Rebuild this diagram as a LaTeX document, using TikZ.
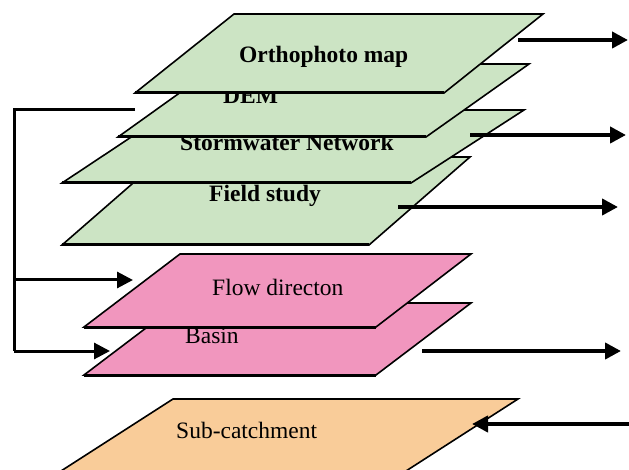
\documentclass[tikz,border=0pt]{standalone}
\usepackage{fontspec}
\setmainfont{Liberation Serif}
\usetikzlibrary{arrows.meta}
\definecolor{lgreen}{RGB}{204,228,196}
\definecolor{lpink}{RGB}{241,150,190}
\definecolor{lorange}{RGB}{249,204,153}
\tikzset{
  layer/.style={draw=black, line width=1.6pt, line join=miter},
  botedge/.style={line width=3pt},
  lbl/.style={anchor=base west, inner sep=0pt, font=\fontsize{23.5}{23.5}\selectfont},
  blbl/.style={anchor=base west, inner sep=0pt, font=\fontsize{23.5}{23.5}\selectfont\bfseries},
  flow/.style={line width=4pt, -{Triangle[length=16pt,width=16pt]}},
  bracket/.style={line width=3pt}
}
\begin{document}
\begin{tikzpicture}[x=1pt,y=-1pt]
\useasboundingbox (0,0) rectangle (629,470);
\clip (0,0) rectangle (629,470);
\fill[white] (0,0) rectangle (629,470);
% green stack, bottom to top
\filldraw[layer, fill=lgreen] (163,157) -- (470,157) -- (369,245) -- (62,245) -- cycle;
\draw[botedge] (62,245) -- (369,245);
\node[blbl] (field) at (209,202) {Field study};
\filldraw[layer, fill=lgreen] (172,110) -- (524,110) -- (411,183) -- (62,183) -- cycle;
\draw[botedge] (62,183) -- (411,183);
\node[blbl] (storm) at (180,151) {Stormwater Network};
\filldraw[layer, fill=lgreen] (220,64) -- (529,64) -- (426,137) -- (118,137) -- cycle;
\draw[botedge] (118,137) -- (426,137);
\node[blbl] (dem) at (223,104) {DEM};
\filldraw[layer, fill=lgreen] (234,14) -- (543,14) -- (444,93) -- (135,93) -- cycle;
\draw[botedge] (135,93) -- (444,93);
\node[blbl] (ortho) at (239,63) {Orthophoto map};
% pink stack
\filldraw[layer, fill=lpink] (179,303) -- (471,303) -- (376,375) -- (84,375) -- cycle;
\draw[botedge] (84,375) -- (376,375);
\node[lbl] (basin) at (185,343) {Basin};
\filldraw[layer, fill=lpink] (180,254) -- (471,254) -- (376,327) -- (84,327) -- cycle;
\draw[botedge] (84,327) -- (376,327);
\node[lbl] (flowdir) at (212,296) {Flow directon};
% orange layer
\filldraw[layer, fill=lorange] (173,399) -- (518,399) -- (392,480) -- (47,480) -- cycle;
\node[lbl] (sub) at (176,438) {Sub-catchment};
% arrow coordinates
\coordinate (a1s) at (518,40);  \coordinate (a1e) at (628,40);
\coordinate (a2s) at (470,135); \coordinate (a2e) at (626,135);
\coordinate (a3s) at (398,207); \coordinate (a3e) at (618,207);
\coordinate (a4s) at (422,351); \coordinate (a4e) at (621,351);
\coordinate (a5s) at (629,424); \coordinate (a5e) at (472,424);
\coordinate (bt) at (135,110);
\coordinate (bc) at (14,110);
\coordinate (bm) at (14,280);
\coordinate (bb) at (14,351);
\coordinate (bme) at (133,280);
\coordinate (bbe) at (110,351);
\draw[flow] (a1s) -- (a1e);
\draw[flow] (a2s) -- (a2e);
\draw[flow] (a3s) -- (a3e);
\draw[flow] (a4s) -- (a4e);
\draw[flow] (a5s) -- (a5e);
\draw[bracket, line join=miter] (bt) -- (bc) -- (bb);
\draw[flow, line width=3pt] (bm) -- (bme);
\draw[flow, line width=3pt] (bb) -- (bbe);
\end{tikzpicture}
\end{document}
